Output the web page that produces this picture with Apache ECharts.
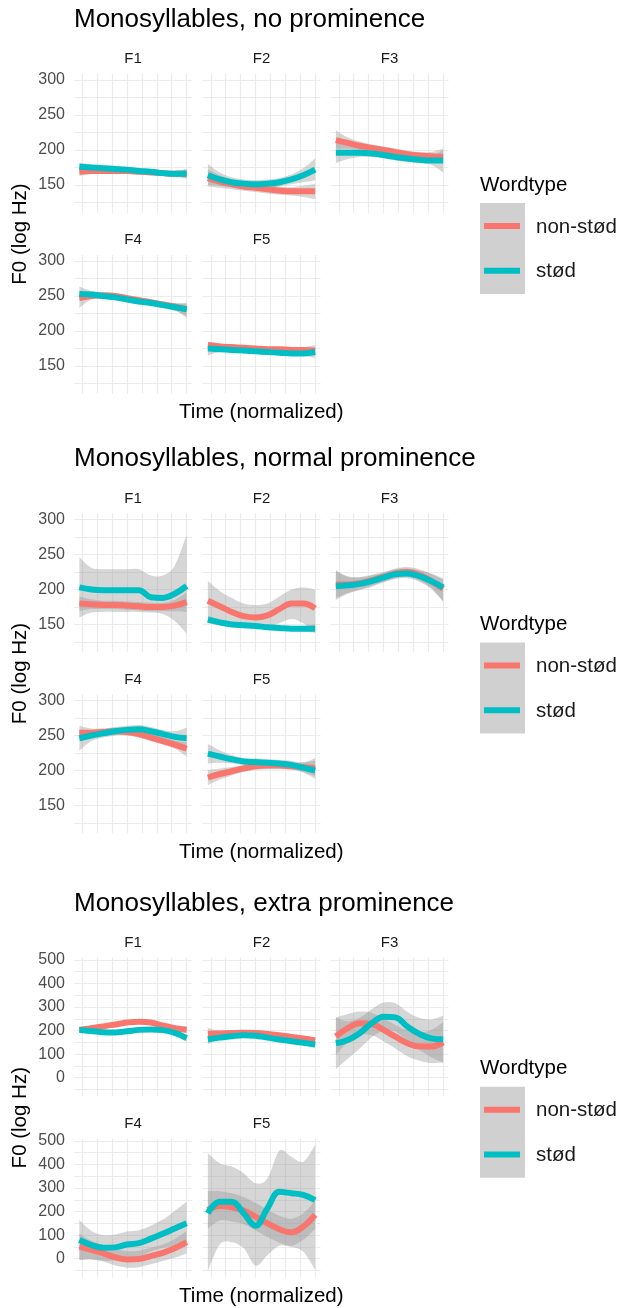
<!DOCTYPE html>
<html><head><meta charset="utf-8">
<script src="https://cdn.jsdelivr.net/npm/echarts@6/dist/echarts.min.js"></script>
<style>html,body{margin:0;padding:0;background:#fff}#c{width:620px;height:1308px}</style>
</head><body><div id="c"></div><script>
// ---------- data ----------
const timePoints = [1,2,3,4,5,6,7,8,9,10];
const facets = ['F1','F2','F3','F4','F5'];
const wordtypes = ['non-stød','stød'];
const sectionTitles = ['Monosyllables, no prominence','Monosyllables, normal prominence','Monosyllables, extra prominence'];
const xGridValues = [1.25,2.5,3.75,5,6.25,7.5,8.75,10];
const yTicksLow = [125,150,175,200,225,250,275,300];
const yLabelsLow = [150,200,250,300];
const yTicksHigh = [-50,0,50,100,150,200,250,300,350,400,450,500];
const yLabelsHigh = [0,100,200,300,400,500];

// no prominence
const noProm_non_fit = [[169,170,170,170,170,169,168,167,166,166],[160,155,151,148,146,144,142,141,141,141],[214,210,206,203,200,197,194,192,191,190],[247,250,251,250,247,244,241,238,235,231],[180,178,177,176,175,174,174,173,173,172]];
const noProm_non_lo = [[163,166,167,167,167,166,165,164,162,160],[148,146,144,142,140,138,136,135,133,130],[202,202,200,198,195,192,189,187,185,180],[233,245,247,246,243,240,237,234,230,219],[173,174,174,173,172,171,171,170,169,166]];
const noProm_non_hi = [[175,174,173,173,173,172,171,170,170,172],[172,164,158,154,152,150,148,147,149,152],[228,218,212,208,205,202,199,197,197,202],[256,255,255,254,251,248,245,242,240,239],[185,182,180,179,178,177,177,176,177,180]];
const noProm_stod_fit = [[176,175,174,173,172,170,169,167,166,166],[164,158,154,152,151,152,154,158,164,172],[196,196,196,195,193,190,188,186,185,185],[253,252,250,248,245,242,240,237,234,231],[175,174,173,172,171,170,169,168,168,170]];
const noProm_stod_lo = [[170,171,171,170,169,167,166,164,162,159],[150,149,147,146,145,146,148,151,154,157],[181,187,190,190,188,185,183,181,179,168],[245,247,246,244,241,238,236,233,229,222],[165,170,170,169,168,167,166,165,164,162]];
const noProm_stod_hi = [[182,179,177,176,175,173,172,170,170,173],[180,168,161,158,157,158,160,165,174,188],[211,205,202,200,198,195,193,191,191,200],[263,257,254,252,249,246,244,241,239,240],[181,178,176,175,174,173,172,171,172,177]];

// normal prominence
const normProm_non_fit = [[180,179,178,178,177,176,175,175,177,182],[184,176,168,162,160,163,172,180,180,173],[207,207,209,213,218,223,225,221,212,201],[254,254,255,256,255,252,247,242,237,231],[190,195,199,203,206,207,207,206,205,203]];
const normProm_non_lo = [[169,172,172,172,171,170,169,169,169,168],[153,152,148,145,145,147,152,158,152,140],[188,195,200,205,211,216,218,213,202,182],[243,248,250,251,250,247,242,237,231,220],[179,187,193,198,201,202,202,201,198,192]];
const normProm_non_hi = [[190,186,184,184,183,182,181,181,185,196],[212,198,188,180,178,180,190,200,203,200],[226,219,218,221,225,230,232,229,222,214],[264,260,260,261,260,257,252,247,243,240],[201,203,205,208,211,212,212,211,212,214]];
const normProm_stod_fit = [[203,200,199,199,199,199,189,188,194,205],[157,153,150,149,148,146,145,144,144,144],[205,206,208,212,217,222,223,219,212,203],[246,250,253,256,258,259,256,252,248,246],[224,220,216,213,212,211,210,208,204,200]];
const normProm_stod_lo = [[160,167,168,168,168,168,167,165,155,137],[152,149,147,146,145,143,142,141,140,138],[185,194,199,204,210,215,216,211,201,184],[228,242,247,250,252,253,250,246,240,232],[210,211,210,208,207,206,205,202,197,188]];
const normProm_stod_hi = [[246,231,229,229,229,229,220,220,234,278],[162,157,153,152,151,149,148,147,148,150],[228,218,217,220,224,229,230,227,223,216],[258,257,259,262,264,265,262,258,256,261],[238,229,222,218,217,216,215,214,211,218]];

// extra prominence
const extraProm_non_fit = [[203,210,218,226,234,238,234,222,210,203],[186,188,190,191,190,186,180,173,166,158],[175,210,231,228,203,174,146,132,132,150],[51,37,23,6,-3,-1,11,25,44,70],[207,224,218,204,178,150,125,112,136,186]];
const extraProm_non_lo = [[190,202,211,219,227,231,227,215,202,188],[168,179,183,185,184,180,174,166,157,145],[95,150,181,180,155,124,91,72,62,65],[-4,-3,-12,-29,-38,-36,-24,-10,4,22],[127,162,158,146,120,92,68,55,80,126]];
const extraProm_non_hi = [[216,218,225,233,241,245,241,229,218,218],[212,197,197,197,196,192,186,180,175,171],[255,270,281,276,251,224,201,192,202,235],[106,77,58,41,32,34,46,60,84,118],[287,286,278,262,236,208,182,170,192,246]];
const extraProm_stod_fit = [[203,198,193,192,197,203,205,202,190,168],[163,170,176,180,178,170,162,155,148,141],[146,160,189,231,259,256,217,186,167,163],[79,58,46,48,60,66,85,106,128,150],[193,242,242,193,140,214,284,278,271,249]];
const extraProm_stod_lo = [[190,191,187,186,191,197,199,195,182,152],[142,162,170,174,172,164,156,148,139,128],[36,80,124,171,199,196,155,118,87,63],[-6,-2,-9,-7,5,11,30,46,53,58],[-52,60,70,45,-30,15,55,50,30,-48]];
const extraProm_stod_hi = [[216,205,199,198,203,209,211,209,198,184],[178,178,182,186,184,176,168,162,157,154],[256,240,254,291,319,316,279,254,247,263],[164,118,101,103,115,121,140,166,203,242],[448,405,391,363,320,340,459,433,412,483]];

// ---------- layout / style ----------
const COLORS = ['#F8766D','#00BFC4'];
const RIBBON = 'rgba(153,153,153,0.4)';
const FONT = '"Liberation Sans", Arial, Helvetica, sans-serif';
const secOff = [0, 439.5, 883.7];
const colLeft = [74, 202.5, 330.5];
const rowTop = [74, 255];
const PW = 118, PH = 138.7;

const sections = [
  {fit:[noProm_non_fit,noProm_stod_fit], lo:[noProm_non_lo,noProm_stod_lo], hi:[noProm_non_hi,noProm_stod_hi], yMin:110.5, yMax:308.5, ticks:yTicksLow, labels:yLabelsLow},
  {fit:[normProm_non_fit,normProm_stod_fit], lo:[normProm_non_lo,normProm_stod_lo], hi:[normProm_non_hi,normProm_stod_hi], yMin:110.5, yMax:308.5, ticks:yTicksLow, labels:yLabelsLow},
  {fit:[extraProm_non_fit,extraProm_stod_fit], lo:[extraProm_non_lo,extraProm_stod_lo], hi:[extraProm_non_hi,extraProm_stod_hi], yMin:-79.5, yMax:509.5, ticks:yTicksHigh, labels:yLabelsHigh}
];

// Catmull-Rom spline through pixel points -> SVG path segments
function splineSegs(pts, moveFirst) {
  let d = moveFirst ? 'M' + pts[0][0] + ',' + pts[0][1] : 'L' + pts[0][0] + ',' + pts[0][1];
  const n = pts.length, k = 1 / 6;
  for (let i = 0; i < n - 1; i++) {
    const p0 = pts[Math.max(0, i - 1)], p1 = pts[i], p2 = pts[i + 1], p3 = pts[Math.min(n - 1, i + 2)];
    const c1x = p1[0] + (p2[0] - p0[0]) * k, c1y = p1[1] + (p2[1] - p0[1]) * k;
    const c2x = p2[0] - (p3[0] - p1[0]) * k, c2y = p2[1] - (p3[1] - p1[1]) * k;
    d += 'C' + c1x + ',' + c1y + ',' + c2x + ',' + c2y + ',' + p2[0] + ',' + p2[1];
  }
  return d;
}

function ribbonRender(params, api) {
  if (params.dataIndexInside !== 0) return null;
  const n = params.dataInsideLength;
  const up = [], dn = [];
  for (let i = 0; i < n; i++) {
    const x = api.value(0, i), lo = api.value(1, i), hi = api.value(2, i);
    up.push(api.coord([x, hi]));
    dn.push(api.coord([x, lo]));
  }
  dn.reverse();
  const d = splineSegs(up, true) + splineSegs(dn, false) + 'Z';
  return {type:'path', shape:{pathData:d}, style:{fill:RIBBON, stroke:null}, silent:true};
}

const grid = [], xAxis = [], yAxis = [], series = [], graphic = [];
const gridLine = {show:true, lineStyle:{color:'#EBEBEB', width:1.2}};

sections.forEach((sec, s) => {
  const off = secOff[s];
  facets.forEach((fname, f) => {
    const row = Math.floor(f/3), col = f % 3;
    const gi = grid.length;
    const top = rowTop[row] + off;
    grid.push({left: colLeft[col], top: top, width: PW, height: PH, containLabel:false});
    xAxis.push({gridIndex: gi, type:'value', min:0.55, max:10.45,
      axisLine:{show:false}, axisTick:{show:false, customValues:xGridValues},
      axisLabel:{show:false, customValues:xGridValues}, splitLine:gridLine});
    yAxis.push({gridIndex: gi, type:'value', min:sec.yMin, max:sec.yMax,
      axisLine:{show:false}, axisTick:{show:false, customValues:sec.ticks},
      axisLabel:{show: col === 0, customValues:sec.labels, color:'#4D4D4D', fontSize:16, fontFamily:FONT, margin:9},
      splitLine:gridLine});
    graphic.push({type:'text', x: colLeft[col] + PW/2, y: (row === 0 ? 59.2 : 240.2) + off, silent:true,
      style:{text:fname, font:'15px ' + FONT, fill:'#1A1A1A', align:'center', verticalAlign:'middle'}});
    wordtypes.forEach((wt, w) => {
      const lo = sec.lo[w][f], hi = sec.hi[w][f], fit = sec.fit[w][f];
      series.push({type:'custom', name: wt + ' ribbon', xAxisIndex:gi, yAxisIndex:gi, silent:true,
        data: timePoints.map((t,i)=>[t, lo[i], hi[i]]), encode:{x:0, y:[1,2]},
        renderItem: ribbonRender, clip:true});
      series.push({type:'line', name: wt, xAxisIndex:gi, yAxisIndex:gi,
        data: timePoints.map((t,i)=>[t, fit[i]]), smooth:0.4, symbol:'none', silent:true,
        lineStyle:{width:6, color:COLORS[w], cap:'butt'}});
    });
  });
  graphic.push({type:'text', x:74, y:19.8 + off, silent:true,
    style:{text:sectionTitles[s], font:'26px ' + FONT, fill:'#000', align:'left', verticalAlign:'middle'}});
  graphic.push({type:'text', x:20.5, y:234 + off, rotation:Math.PI/2, silent:true,
    style:{text:'F0 (log Hz)', font:'20.5px ' + FONT, fill:'#000', align:'center', verticalAlign:'middle'}});
  graphic.push({type:'text', x:261.3, y:412.4 + off, silent:true,
    style:{text:'Time (normalized)', font:'20.5px ' + FONT, fill:'#000', align:'center', verticalAlign:'middle'}});
  graphic.push({type:'text', x:480, y:185 + off, silent:true,
    style:{text:'Wordtype', font:'20.5px ' + FONT, fill:'#000', align:'left', verticalAlign:'middle'}});
  graphic.push({type:'rect', shape:{x:480, y:203 + off, width:45, height:91}, silent:true, style:{fill:'#D0D0D0'}});
  wordtypes.forEach((wt, w) => {
    const ky = (w === 0 ? 226 : 270.7) + off;
    graphic.push({type:'line', shape:{x1:484, y1:ky, x2:520, y2:ky}, silent:true, style:{stroke:COLORS[w], lineWidth:6}});
    graphic.push({type:'text', x:536, y:ky + 1, silent:true,
      style:{text:wt, font:'20.5px ' + FONT, fill:'#1A1A1A', align:'left', verticalAlign:'middle'}});
  });
});

const chart = echarts.init(document.getElementById('c'), null, {renderer:'canvas'});
chart.setOption({animation:false, backgroundColor:'#fff', grid, xAxis, yAxis, series, graphic});
</script></body></html>
